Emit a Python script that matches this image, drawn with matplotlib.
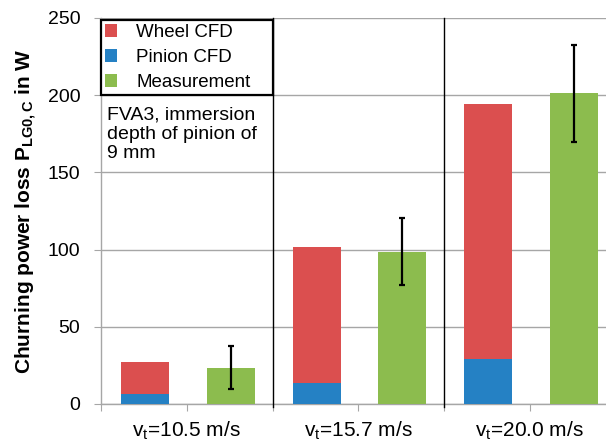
import matplotlib
matplotlib.use("Agg")
import matplotlib.pyplot as plt
import numpy as np

plt.rcParams['font.family'] = ['Liberation Sans', 'DejaVu Sans']
plt.rcParams['mathtext.fontset'] = 'custom'
plt.rcParams['mathtext.rm'] = 'Liberation Sans'
plt.rcParams['mathtext.it'] = 'Liberation Sans:italic'
plt.rcParams['mathtext.bf'] = 'Liberation Sans:bold'

categories = ["v$_\\mathregular{t}$=10.5 m/s", "v$_\\mathregular{t}$=15.7 m/s", "v$_\\mathregular{t}$=20.0 m/s"]
pinion_cfd = [6.5, 13.5, 29.0]
wheel_cfd = [21.0, 88.5, 165.0]
measurement = [23.5, 98.7, 201.3]
meas_err = [14.0, 21.7, 31.5]
series_names = ["Wheel CFD", "Pinion CFD", "Measurement"]
yticks = [0, 50, 100, 150, 200, 250]

c_red = "#DB4F4F"
c_blue = "#2581C4"
c_green = "#8CBC4E"
gray = "#A6A6A6"

fig = plt.figure(figsize=(6.06, 4.43), dpi=100)
W, H = 606, 443
ax = fig.add_axes([101 / W, 39 / H, 514.5 / W, 386 / H])

n = len(categories)
x = np.arange(n)
bw = 0.28
xr = x + 0.257
xg = x + 0.757

ax.bar(xr, pinion_cfd, width=bw, color=c_blue, label=series_names[1], zorder=3)
ax.bar(xr, wheel_cfd, width=bw, bottom=pinion_cfd, color=c_red, label=series_names[0], zorder=3)
ax.bar(xg, measurement, width=bw, color=c_green, label=series_names[2], zorder=3)
ax.errorbar(xg, measurement, yerr=meas_err, fmt='none', ecolor='black',
            elinewidth=1.6, capsize=2.2, capthick=1.6, zorder=4)

ax.set_xlim(0, n)
ax.set_ylim(0, 250)
ax.set_yticks(yticks)
ax.yaxis.grid(True, color=gray, linewidth=1.0, zorder=0)
ax.tick_params(axis='y', length=5, color=gray, labelsize=14, pad=10)

ax.set_xticks(np.arange(0, n + 0.01, 0.5))
ax.set_xticklabels(["" if i % 2 == 0 else categories[i // 2] for i in range(2 * n + 1)])
ax.tick_params(axis='x', length=5, color=gray, labelsize=15, pad=6)

for s in ['top', 'right']:
    ax.spines[s].set_visible(False)
ax.spines['left'].set_color(gray)
ax.spines['bottom'].set_color(gray)
ax.spines['left'].set_linewidth(1.0)
ax.spines['bottom'].set_linewidth(1.0)

# category separators
for xs in range(1, n):
    ax.plot([xs, xs], [-0.008, 1.0], color='black', linewidth=1.0,
            transform=ax.get_xaxis_transform(), clip_on=False, zorder=5)

ax.set_ylabel("Churning power loss P$_{\\mathbf{LG0,C}}$ in W", fontsize=15,
              fontweight='bold', labelpad=6)

handles, labels = ax.get_legend_handles_labels()
order = [1, 0, 2]
leg = ax.legend([handles[i] for i in order], [labels[i] for i in order],
                loc='upper left', bbox_to_anchor=(0, 200.8, 1.0, 47.9),
                bbox_transform=ax.transData, mode='expand', fontsize=13.5,
                frameon=True, fancybox=False, framealpha=1, edgecolor='black',
                borderaxespad=0, handlelength=0.65, handleheight=0.65,
                handletextpad=1.0, labelspacing=0.42, borderpad=0.22)
leg.get_frame().set_linewidth(1.6)
leg.set_zorder(6)

ax.text(0.035, 193.0, "FVA3, immersion\ndepth of pinion of\n9 mm", fontsize=14,
        va='top', ha='left', linespacing=1.2, zorder=6)

fig.savefig("out.png", dpi=100)
